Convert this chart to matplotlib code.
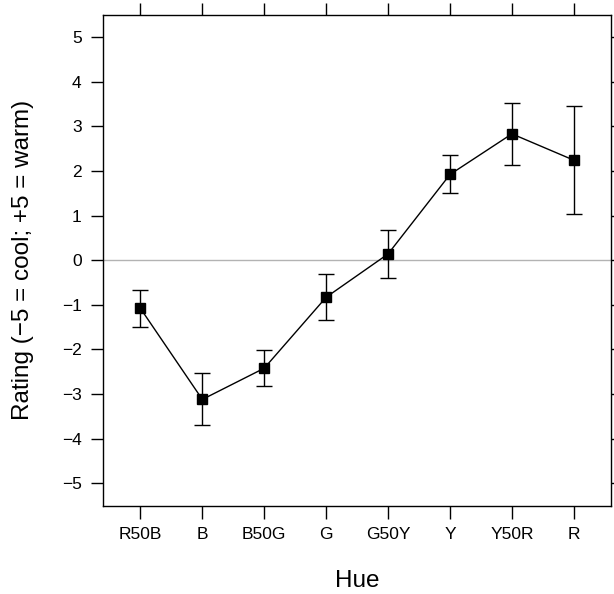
import matplotlib
matplotlib.use("Agg")
import matplotlib.pyplot as plt

plt.rcParams['font.family'] = ['Liberation Sans', 'DejaVu Sans']

# hue categories and mean ratings with interval ends
hues = ['R50B', 'B', 'B50G', 'G', 'G50Y', 'Y', 'Y50R', 'R']
rating = [-1.08, -3.12, -2.42, -0.83, 0.14, 1.92, 2.83, 2.24]
lower = [-1.50, -3.70, -2.82, -1.35, -0.40, 1.50, 2.13, 1.03]
upper = [-0.66, -2.53, -2.02, -0.31, 0.68, 2.35, 3.52, 3.45]
yticks = [-5, -4, -3, -2, -1, 0, 1, 2, 3, 4, 5]

x = list(range(1, len(hues) + 1))
yerr = [[r - lo for r, lo in zip(rating, lower)],
        [up - r for r, up in zip(rating, upper)]]

fig = plt.figure(figsize=(6.14, 5.94), dpi=100)
ax = fig.add_axes([0.1682, 0.1487, 0.8269, 0.8266])

ax.axhline(0, color='#b3b3b3', lw=1, zorder=1)
ax.errorbar(x, rating, yerr=yerr, fmt='none', ecolor='black',
            elinewidth=1, capsize=6, capthick=1, zorder=2)
ax.plot(x, rating, color='black', lw=1, marker='s', ms=7.5, zorder=3)

ax.set_xlim(0.4, 8.6)
ax.set_ylim(-5.5, 5.5)
ax.set_xticks(x)
ax.set_xticklabels(hues)
ax.set_yticks(yticks)
ax.set_yticklabels([str(v).replace('-', '\u2212') for v in yticks])

ax.tick_params(direction='out', length=9, width=1, pad=6.5,
               labelsize=12.5, top=True, right=True,
               labeltop=False, labelright=False)
for s in ax.spines.values():
    s.set_linewidth(1)

fig.text(0.5816, 0.022, 'Hue', ha='center', va='center', fontsize=17.5)
fig.text(0.037, 0.5617, 'Rating (\u22125 = cool; +5 = warm)', ha='center',
         va='center', rotation=90, fontsize=17.5)

fig.savefig('out.png', dpi=100)
